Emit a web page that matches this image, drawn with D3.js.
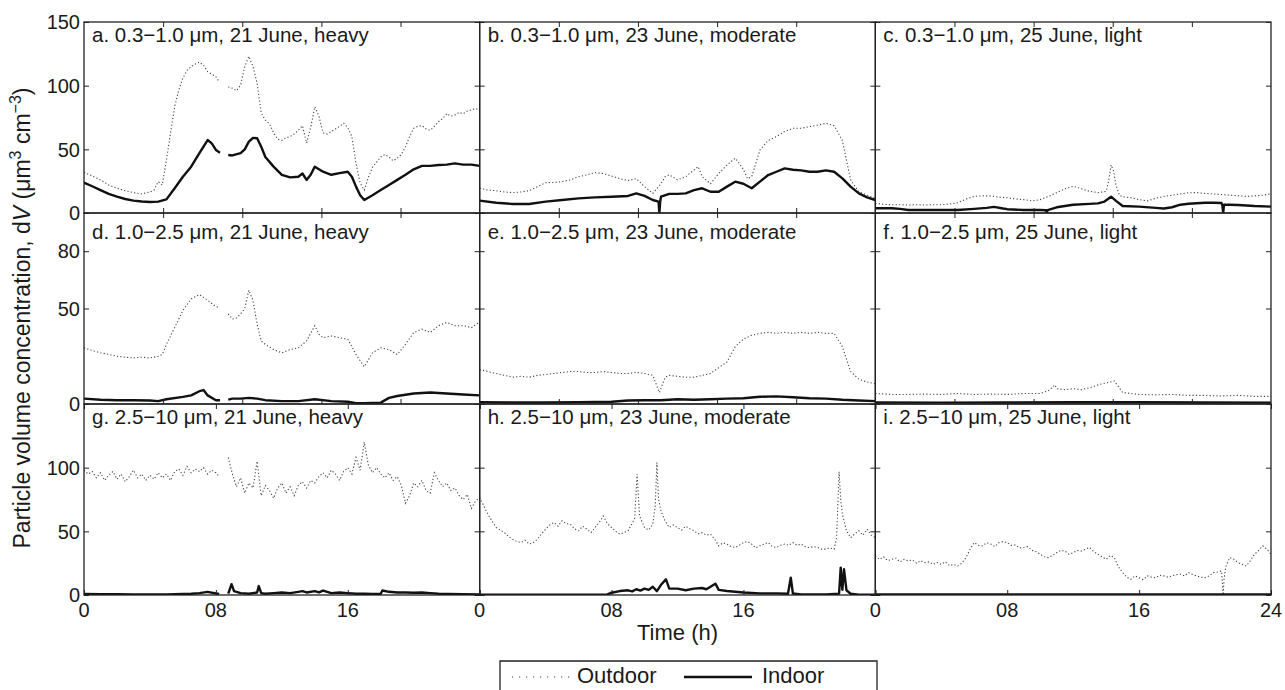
<!DOCTYPE html>
<html>
<head>
<meta charset="utf-8">
<script src="https://cdn.jsdelivr.net/npm/d3@7"></script>
<style>
  html, body { margin: 0; padding: 0; background: #fff; }
  svg { display: block; }
  text { font-family: "Liberation Sans", Arial, Helvetica, sans-serif; fill: #1a1a1a; }
</style>
</head>
<body>
<svg id="chart" width="1285" height="690"></svg>
<script>
// ---------------- DATA ----------------
const panelTitles = [
  "a. 0.3\u22121.0 \u03bcm, 21 June, heavy",
  "b. 0.3\u22121.0 \u03bcm, 23 June, moderate",
  "c. 0.3\u22121.0 \u03bcm, 25 June, light",
  "d. 1.0\u22122.5 \u03bcm, 21 June, heavy",
  "e. 1.0\u22122.5 \u03bcm, 23 June, moderate",
  "f. 1.0\u22122.5 \u03bcm, 25 June, light",
  "g. 2.5\u221210 \u03bcm, 21 June, heavy",
  "h. 2.5\u221210 \u03bcm, 23 June, moderate",
  "i. 2.5\u221210 \u03bcm, 25 June, light"
];
const rowDomains = [[0, 150], [0, 100], [0, 150]];
const rowYTicks = [[0, 50, 100, 150], [0, 50, 80], [0, 50, 100]];
const rowTitleLevel = [140, 90, 140];
const minorXTicks = [4.8, 9.6, 14.4, 19.2];
const majorXTicks = [0, 8, 16, 24];
const xTickLabels = ["0", "08", "16", "24"];
const legendLabels = ["Outdoor", "Indoor"];

// [hour, dV]; null = gap in record
const outdoorA = [[0,32],[0.5,29],[1,26],[1.5,22],[2,19.5],[2.5,17.5],[3,16],[3.5,15],[4,16.5],[4.25,18],[4.5,24.6],[4.75,22],[5,41.6],[5.25,63],[5.5,83.5],[5.75,96.6],[6,106],[6.25,112],[6.5,115],[6.75,117],[7,118.5],[7.25,116],[7.5,111],[7.75,109],[8,107],[8.2,103],[8.5,null],[8.75,99],[9,98],[9.25,96],[9.5,100.5],[9.75,115],[10,123],[10.25,115],[10.5,102],[10.75,78.5],[11,73],[11.25,70],[11.5,63],[11.75,58],[12,57],[12.25,59],[12.5,60],[12.75,62],[13,65],[13.25,68.6],[13.5,55],[13.75,67],[14,83.5],[14.25,76],[14.5,63],[14.75,62],[15,64],[15.25,66],[15.5,68],[15.75,70.5],[16,67],[16.25,60],[16.5,39],[16.75,23.5],[17,18],[17.25,28],[17.5,36],[17.75,40],[18,44],[18.25,46],[18.5,44],[18.75,41],[19,43],[19.25,46],[19.5,52],[19.75,60],[20,66.6],[20.25,68],[20.5,68.6],[20.75,66],[21,65],[21.25,68],[21.5,71.7],[21.75,74],[22,78],[22.25,76],[22.5,77],[22.75,79],[23,78],[23.25,80],[23.5,81],[23.75,82],[24,81]];
const indoorA = [[0,23.8],[0.5,21],[1,18],[1.5,15],[2,12.8],[2.5,11],[3,9.7],[3.5,9],[4,8.6],[4.5,8.9],[5,10.7],[5.5,19.5],[6,28.5],[6.5,36.4],[7,47],[7.5,57.3],[7.75,54.7],[8,49.5],[8.25,47.4],[8.5,null],[8.75,45.6],[9,45.2],[9.5,47],[9.75,50],[10,56],[10.25,59],[10.5,58.7],[10.75,52],[11,44],[11.5,36.4],[12,30],[12.5,28],[13,28.5],[13.25,31],[13.5,26],[13.75,30],[14,36.4],[14.5,32.4],[15,30],[15.5,31.3],[16,32.4],[16.25,28.5],[16.5,20.7],[16.75,14],[17,10.2],[17.5,14],[18,18],[18.5,22],[19,26],[19.5,30],[20,34.3],[20.5,37],[21,37],[21.5,37.7],[22,38],[22.5,39],[23,38],[23.5,38],[24,37]];
const outdoorB = [[0,19.4],[0.5,18],[1,17.5],[1.5,16.5],[2,16],[2.5,16.5],[3,17.5],[3.5,20.7],[4,23.8],[4.5,24],[5,24.6],[5.5,26],[6,28.5],[6.5,30],[7,31.7],[7.5,31],[8,29],[8.5,27],[9,25.4],[9.5,27],[10,20.7],[10.5,15.4],[11,23],[11.25,28.5],[11.5,30],[12,26],[12.5,28.5],[13,33.8],[13.25,36.4],[13.5,28.5],[14,23],[14.5,31],[15,37.7],[15.5,43],[15.75,39],[16,34],[16.25,27],[16.5,28.5],[17,49.5],[17.5,57],[18,60],[18.5,64],[19,66.5],[19.5,66.5],[20,67.8],[20.5,69],[21,70.4],[21.5,68.6],[22,57],[22.25,41.6],[22.5,26],[23,16.7],[23.5,14],[24,11.5]];
const indoorB = [[0,9.7],[1,8.1],[2,7.1],[3,7.1],[4,8.9],[5,10.2],[6,11.5],[7,12.3],[8,12.8],[9,13.4],[9.5,15.4],[10,13.4],[10.5,10.2],[10.85,9],[10.9,0],[10.95,9],[11,12.8],[11.5,15],[12,15],[12.5,15.4],[13,18],[13.5,19.4],[14,16.7],[14.5,16.7],[15,20.7],[15.5,24.6],[16,23],[16.5,19.4],[17,24.6],[17.5,29.8],[18,32.4],[18.5,35],[19,34],[19.5,33.5],[20,32.4],[20.5,32.4],[21,33.5],[21.5,32.4],[22,27.2],[22.5,20.7],[23,15.4],[23.5,12.3],[24,10.2]];
const outdoorC = [[0,7.6],[0.5,6.8],[1,6.5],[1.5,6.5],[2,6.3],[2.5,6.5],[3,6.3],[3.5,6.5],[4,6.5],[4.5,7],[5,8],[5.5,11],[6,13],[6.5,13.5],[7,13.4],[7.5,12.5],[8,12],[8.5,11],[9,10.5],[9.5,9.5],[10,10.5],[10.5,13],[11,16],[11.5,19],[12,21],[12.5,19],[13,17],[13.5,16],[14,17],[14.15,25],[14.3,37.7],[14.45,33],[14.6,22],[14.8,14],[15,12.8],[15.5,12],[16,10.5],[16.5,9.5],[17,11.5],[17.5,13],[18,14],[18.5,15],[19,15.9],[19.5,16],[20,15.4],[20.5,15],[21,14.5],[21.5,14],[22,13.5],[22.5,13],[23,13.4],[23.5,14],[24,15]];
const indoorC = [[0,3.7],[1,3.7],[1.5,3.2],[2,2.4],[3,2.4],[4,2.4],[5,2.4],[6,3.2],[6.75,4],[7.2,4.8],[7.75,3.5],[8,3],[9,2.4],[10,2.4],[10.35,2.2],[10.4,0],[10.45,2.2],[11,4.5],[12,6.5],[13,7.2],[13.5,7.6],[13.9,9],[14.3,12.8],[14.6,9.5],[15,5.5],[16,5],[17,4],[17.5,3.5],[18,4.5],[18.5,6.5],[19,7.3],[20,8],[20.5,8.1],[21,7.8],[21.05,6],[21.1,0],[21.15,6.5],[21.5,6.5],[22,6.3],[23,5.5],[24,5]];
const outdoorD = [[0,29.4],[0.5,28],[1,26.8],[1.5,26],[2,25],[2.5,24.5],[3,24.1],[3.5,24.5],[4,24.1],[4.5,25],[4.75,26],[5,31.2],[5.5,40],[6,49],[6.5,55],[7,57.3],[7.5,54.3],[8,51],[8.2,50.5],[8.5,null],[8.75,47.2],[9,44.5],[9.25,45],[9.5,47.2],[9.75,50],[10,59.6],[10.25,54.3],[10.5,41.8],[10.75,33],[11,31.2],[11.5,28.5],[12,26.8],[12.5,28.5],[13,29.4],[13.5,33],[14,41],[14.25,36.5],[14.5,34.7],[15,35.6],[15.5,34.7],[16,33.9],[16.25,30],[16.5,25.9],[17,19.5],[17.5,26.8],[18,29.4],[18.5,28.5],[19,25.9],[19.5,31.2],[20,37.4],[20.5,39.2],[21,37.4],[21.5,41],[22,42.7],[22.5,41],[23,41],[23.5,40],[24,43]];
const indoorD = [[0,2.8],[1,2.2],[2,2],[3,2],[4,1.8],[4.5,1.5],[5,2.5],[6,3.7],[6.5,4.5],[7,6.7],[7.25,7.3],[7.5,4.5],[8,2],[8.25,2],[8.5,null],[8.75,2.3],[9,2.8],[9.5,2.8],[10,3.2],[10.5,2.8],[11,2],[12,1.5],[13,1.5],[14,2.5],[15,1.5],[16,1.2],[16.5,0.4],[17,0.4],[18,0.7],[18.5,3.2],[19,4.2],[20,5.5],[21,6],[22,5.5],[23,5],[24,4.5]];
const outdoorE = [[0,18],[0.5,17],[1,16],[1.5,15],[2,14],[2.5,14.5],[3,14],[3.5,15],[4,15.4],[4.5,16],[5,16.5],[5.5,17],[6,17],[6.5,16.5],[7,16.5],[7.5,17],[8,16.5],[8.5,16],[9,16],[9.5,16.5],[10,16],[10.5,15],[10.9,6],[11.25,14],[11.5,15],[12,14.5],[12.5,14],[13,14],[13.5,15],[14,16],[14.5,19],[15,22],[15.5,30],[16,34],[16.5,36],[17,37],[17.5,37.5],[18,37],[18.5,37.5],[19,37],[19.5,37.5],[20,37],[20.5,37.5],[21,37],[21.5,37],[22,30],[22.5,17],[23,13],[23.5,11.5],[24,10.6]];
const indoorE = [[0,1],[2,0.8],[4,0.8],[6,1],[8,1.2],[9,1.8],[10,2],[11,2],[12,2.5],[13,2.2],[14,2.5],[15,2.8],[16,3],[17,3.8],[18,4],[19,3.5],[20,3],[21,2.8],[22,2.2],[23,1.8],[24,1.5]];
const outdoorF = [[0,5.5],[1,5],[2,5],[3,5.2],[4,5],[5,5.5],[6,5],[7,5.2],[8,5],[9,5.5],[10,5.5],[10.5,7],[10.9,10],[11,8],[11.5,7.5],[12,8],[12.5,7.5],[13,8.5],[13.5,10],[14,11],[14.5,12],[15,6],[16,5],[17,4.8],[18,5],[19,4.5],[20,4.5],[21,4.2],[22,4.5],[23,4],[24,4]];
const indoorF = [[0,0.8],[4,0.7],[8,0.8],[12,0.9],[16,1],[20,0.8],[24,0.7]];
const outdoorG = [[0,98],[0.25,95],[0.5,97],[0.75,92],[1,96],[1.25,90],[1.5,94],[1.75,97],[2,91],[2.25,95],[2.5,89],[2.75,93],[3,98],[3.25,92],[3.5,95],[3.75,90],[4,94],[4.25,91],[4.5,96],[4.75,92],[5,95],[5.25,90],[5.5,97],[5.75,99],[6,94],[6.25,101],[6.5,96],[6.75,99],[7,97],[7.25,100],[7.5,95],[7.75,98],[8,96],[8.2,93],[8.5,null],[8.75,108],[9,95],[9.25,85],[9.5,92],[9.75,80],[10,88],[10.25,84],[10.5,105],[10.75,78],[11,86],[11.25,82],[11.5,76],[11.75,84],[12,88],[12.25,80],[12.5,85],[12.75,78],[13,86],[13.25,89],[13.5,84],[13.75,90],[14,88],[14.25,93],[14.5,96],[14.75,92],[15,98],[15.25,95],[15.5,90],[15.75,97],[16,100],[16.25,95],[16.5,108],[16.75,98],[17,120],[17.25,102],[17.5,96],[17.75,100],[18,95],[18.25,92],[18.5,96],[18.75,90],[19,93],[19.25,86],[19.5,72],[19.75,78],[20,88],[20.25,85],[20.5,90],[20.75,82],[21,80],[21.25,96],[21.5,90],[21.75,85],[22,88],[22.25,82],[22.5,84],[22.75,78],[23,75],[23.25,79],[23.5,68],[23.75,74],[24,76]];
const indoorG = [[0,0.8],[1,0.6],[2,0.6],[3,0.5],[4,0.5],[5,0.5],[6,0.8],[6.5,1],[7,1.5],[7.5,2.5],[8,1.2],[8.2,0.8],[8.5,null],[8.75,1],[8.95,8.5],[9.1,3],[9.5,1.5],[10,1],[10.5,2],[10.6,7],[10.75,1.5],[11,1],[11.5,1.5],[12,2],[12.5,1.5],[13,2.5],[13.25,3],[13.5,2],[14,3],[14.25,2],[14.5,3.5],[15,1.5],[15.5,2],[16,1.5],[16.5,1],[17,1],[17.5,0.8],[18,1],[18.1,3.5],[18.5,2.5],[19,2],[19.5,2],[20,1.8],[20.5,2],[21,1.5],[21.5,1],[22,0.8],[23,0.6],[24,0.5]];
const outdoorH = [[0,76.6],[0.25,70],[0.5,63.5],[0.75,58],[1,53],[1.25,51],[1.5,49],[1.75,46],[2,43.8],[2.25,42],[2.5,41.2],[2.75,43],[3,40],[3.25,41],[3.5,43.8],[3.75,48],[4,51.7],[4.25,55],[4.5,57],[4.75,54],[5,58.3],[5.25,56],[5.5,55.6],[5.75,52],[6,50.4],[6.25,54],[6.5,51.7],[6.75,49],[7,53],[7.25,57],[7.5,62],[7.75,56],[8,53],[8.25,50],[8.5,47.8],[8.75,49],[9,50.4],[9.4,60],[9.55,95],[9.7,62],[10,53],[10.25,51],[10.5,55.6],[10.65,70],[10.75,104],[10.85,75],[11,66],[11.25,58],[11.5,53],[11.75,55],[12,53],[12.25,51],[12.5,54],[12.75,52],[13,50.4],[13.25,48],[13.5,49],[13.75,47],[14,47.8],[14.25,44],[14.5,38.6],[14.75,41],[15,40],[15.25,38],[15.5,37.3],[15.75,39],[16,41.2],[16.25,42],[16.5,40],[16.75,37],[17,38.6],[17.25,40],[17.5,41.2],[17.75,38],[18,37.3],[18.25,39],[18.5,40],[18.75,39],[19,41.2],[19.25,39],[19.5,40],[19.75,38],[20,37.3],[20.25,38],[20.5,37.3],[20.75,36],[21,36],[21.25,37],[21.5,36],[21.65,45],[21.8,97],[21.9,75],[22,63.5],[22.25,50.4],[22.5,45],[22.75,48],[23,50.4],[23.25,47],[23.5,51.7],[23.75,47],[24,45]];
const indoorH = [[0,0.2],[1,0.2],[2,0.2],[3,0.2],[4,0.2],[5,0.2],[6,0.3],[7,0.3],[7.75,0.5],[8,1.8],[8.5,3.1],[9,3.7],[9.25,2.8],[9.5,4.5],[9.75,3.5],[10,5],[10.25,4],[10.5,6.5],[10.75,3],[11,8],[11.3,12.3],[11.5,5],[11.75,5],[12,5],[12.5,3.7],[13,5],[13.5,5.5],[13.75,4.5],[14.3,8.9],[14.5,4],[15,3.1],[16,2],[17,1.3],[18,1.3],[18.7,1],[18.87,13.6],[19,1.2],[19.5,0.5],[20,0.5],[21,0.5],[21.8,1],[21.9,21.5],[22,4],[22.1,20.2],[22.25,3.7],[22.5,1],[23,0.2],[24,0.2]];
const outdoorI = [[0,30.7],[0.25,28],[0.5,30],[0.75,27],[1,28],[1.25,29],[1.5,26],[1.75,28],[2,26.8],[2.25,27.5],[2.5,25],[2.75,27],[3,25.4],[3.25,26],[3.5,24],[3.75,25.5],[4,24.1],[4.25,26],[4.5,23],[4.75,24],[5,22.8],[5.25,25],[5.5,29.4],[5.75,36],[6,41.2],[6.25,39],[6.5,38.6],[6.75,41],[7,40],[7.25,38],[7.5,41.2],[7.75,42],[8,41.2],[8.25,39],[8.5,39.4],[8.75,37],[9,37.3],[9.25,38],[9.5,35.2],[9.75,34],[10,32],[10.25,30],[10.5,29.4],[10.75,31],[11,33.3],[11.25,35],[11.5,34.6],[11.75,32],[12,33.3],[12.25,35],[12.5,34.6],[12.75,36],[13,37.3],[13.25,34],[13.5,32],[13.75,30],[14,28],[14.25,31],[14.5,29.4],[14.75,22],[15,17.6],[15.25,14],[15.5,12.3],[15.75,15],[16,13.6],[16.25,12],[16.5,15],[16.75,14],[17,13.6],[17.25,15.5],[17.5,15],[17.75,14],[18,15],[18.25,16],[18.5,16.3],[18.75,15],[19,17.6],[19.25,16],[19.5,15],[19.75,14],[20,13.6],[20.25,15],[20.5,17.6],[20.75,18],[21,18.9],[21.05,10],[21.1,0],[21.15,12],[21.25,22],[21.5,29.4],[21.75,28],[22,25.4],[22.25,24],[22.5,22.8],[22.75,27],[23,32],[23.25,35],[23.5,38.6],[23.75,36],[24,32]];
const indoorI = [[0,0.4],[4,0.4],[8,0.5],[12,0.5],[16,0.4],[20,0.4],[24,0.4]];

const outdoorSeries = [outdoorA, outdoorB, outdoorC, outdoorD, outdoorE, outdoorF, outdoorG, outdoorH, outdoorI];
const indoorSeries  = [indoorA, indoorB, indoorC, indoorD, indoorE, indoorF, indoorG, indoorH, indoorI];

// ---------------- LAYOUT ----------------
const svg = d3.select("#chart");
const plotLeft = 84, plotRight = 1271, plotTop = 22, plotBottom = 595;
const colW = (plotRight - plotLeft) / 3;
const rowH = (plotBottom - plotTop) / 3;
const tickLen = 5;
const frameColor = "#222";
const outdoorStroke = "#444";

panelTitles.forEach((title, i) => {
  const row = Math.floor(i / 3), col = i % 3;
  const x0 = plotLeft + col * colW, y0 = plotTop + row * rowH;
  const x = d3.scaleLinear().domain([0, 24]).range([x0, x0 + colW]);
  const y = d3.scaleLinear().domain(rowDomains[row]).range([y0 + rowH, y0]);

  const g = svg.append("g");
  const clipId = "clip" + i;
  svg.append("clipPath").attr("id", clipId).append("rect")
    .attr("x", x0).attr("y", y0).attr("width", colW).attr("height", rowH);

  const line = d3.line().defined(d => d[1] !== null).x(d => x(d[0])).y(d => y(d[1]));

  const lines = g.append("g").attr("clip-path", `url(#${clipId})`);
  lines.append("path").datum(outdoorSeries[i]).attr("d", line)
    .attr("fill", "none").attr("stroke", outdoorStroke).attr("stroke-width", 1.1)
    .attr("stroke-dasharray", "1.2,2.2");
  lines.append("path").datum(indoorSeries[i]).attr("d", line)
    .attr("fill", "none").attr("stroke", "#111").attr("stroke-width", 2.4)
    .attr("stroke-linejoin", "round");

  // ticks (inward, both sides), via axes
  const xt = row === 2 ? majorXTicks : minorXTicks;
  const yb = y0 + rowH;
  g.append("g").attr("transform", `translate(0,${yb})`)
    .call(d3.axisTop(x).tickValues(xt).tickSize(tickLen).tickFormat(""))
    .call(s => s.select(".domain").remove());
  g.append("g").attr("transform", `translate(0,${y0})`)
    .call(d3.axisBottom(x).tickValues(xt).tickSize(tickLen).tickFormat(""))
    .call(s => s.select(".domain").remove());
  g.append("g").attr("transform", `translate(${x0},0)`)
    .call(d3.axisRight(y).tickValues(rowYTicks[row]).tickSize(tickLen).tickFormat(""))
    .call(s => s.select(".domain").remove());
  g.append("g").attr("transform", `translate(${x0 + colW},0)`)
    .call(d3.axisLeft(y).tickValues(rowYTicks[row]).tickSize(tickLen).tickFormat(""))
    .call(s => s.select(".domain").remove());
  g.selectAll(".tick line").attr("stroke", frameColor).attr("stroke-width", 1);

  g.append("rect").attr("x", x0).attr("y", y0).attr("width", colW).attr("height", rowH)
    .attr("fill", "none").attr("stroke", frameColor).attr("stroke-width", 1.3);

  // y tick labels (left column)
  if (col === 0) {
    g.selectAll(".ylab").data(rowYTicks[row]).enter().append("text")
      .attr("x", x0 - 4).attr("y", d => y(d)).attr("dy", "0.36em")
      .attr("text-anchor", "end").attr("font-size", 20).text(d => d);
  }
  // x tick labels (bottom row)
  if (row === 2) {
    const labs = majorXTicks.map((t, k) => ({ t, s: xTickLabels[k] }))
      .filter(d => d.t < 24 || col === 2);
    g.selectAll(".xlab").data(labs).enter().append("text")
      .attr("x", d => x(d.t)).attr("y", yb + 22)
      .attr("text-anchor", "middle").attr("font-size", 20).text(d => d.s);
  }
  // panel title
  g.append("text").attr("x", x0 + 8).attr("y", y(rowTitleLevel[row])).attr("dy", "0.36em")
    .attr("font-size", 20.5).text(title);
});

// axis titles
svg.append("text").attr("x", (plotLeft + plotRight) / 2).attr("y", 640)
  .attr("text-anchor", "middle").attr("font-size", 22).text("Time (h)");

const yl = svg.append("text").attr("transform", "translate(30,318) rotate(-90)")
  .attr("text-anchor", "middle").attr("font-size", 23);
yl.append("tspan").text("Particle volume concentration, d");
yl.append("tspan").attr("font-style", "italic").text("V");
yl.append("tspan").text(" (\u03bcm");
yl.append("tspan").attr("font-size", 16).attr("dy", -9).text("3");
yl.append("tspan").attr("dy", 9).text(" cm");
yl.append("tspan").attr("font-size", 16).attr("dy", -9).text("\u22123");
yl.append("tspan").attr("dy", 9).text(")");

// legend
const lg = svg.append("g");
lg.append("path").attr("d", "M500,700 V661 H877 V700")
  .attr("fill", "none").attr("stroke", "#222").attr("stroke-width", 1.3);
lg.append("line").attr("x1", 512).attr("x2", 572).attr("y1", 677).attr("y2", 677)
  .attr("stroke", outdoorStroke).attr("stroke-width", 1.1).attr("stroke-dasharray", "1.2,5.8");
lg.append("text").attr("x", 577).attr("y", 683).attr("font-size", 22).text(legendLabels[0]);
lg.append("line").attr("x1", 684).attr("x2", 752).attr("y1", 677).attr("y2", 677)
  .attr("stroke", "#111").attr("stroke-width", 2.4);
lg.append("text").attr("x", 762).attr("y", 683).attr("font-size", 22).text(legendLabels[1]);
</script>
</body>
</html>
